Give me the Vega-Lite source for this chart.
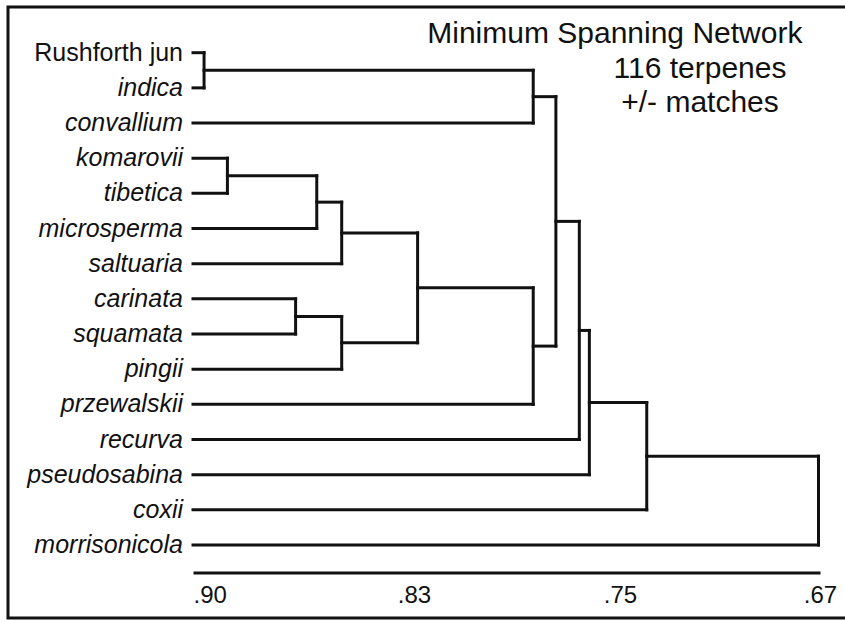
{
  "$schema": "https://vega.github.io/schema/vega-lite/v6.json",
  "width": 841,
  "height": 611,
  "autosize": "none",
  "padding": {"left": 8, "top": 7, "right": -4, "bottom": 3},
  "background": "white",
  "config": {
    "view": {"stroke": "#111", "strokeWidth": 3},
    "font": "Liberation Sans",
    "axis": {"grid": false, "ticks": false, "title": null}
  },
  "datasets": {
    "segments": [
      {"x1": 0.9, "x2": 0.8965, "y1": 0, "y2": 0},
      {"x1": 0.9, "x2": 0.8965, "y1": 1, "y2": 1},
      {"x1": 0.8965, "x2": 0.8965, "y1": 0, "y2": 1},
      {"x1": 0.8965, "x2": 0.7837, "y1": 0.5, "y2": 0.5},
      {"x1": 0.9, "x2": 0.7837, "y1": 2, "y2": 2},
      {"x1": 0.7837, "x2": 0.7837, "y1": 0.5, "y2": 2},
      {"x1": 0.7837, "x2": 0.7749, "y1": 1.25, "y2": 1.25},
      {"x1": 0.9, "x2": 0.8891, "y1": 3, "y2": 3},
      {"x1": 0.9, "x2": 0.8891, "y1": 4, "y2": 4},
      {"x1": 0.8891, "x2": 0.8891, "y1": 3, "y2": 4},
      {"x1": 0.8891, "x2": 0.8608, "y1": 3.5, "y2": 3.5},
      {"x1": 0.9, "x2": 0.8608, "y1": 5, "y2": 5},
      {"x1": 0.8608, "x2": 0.8608, "y1": 3.5, "y2": 5},
      {"x1": 0.8608, "x2": 0.8529, "y1": 4.25, "y2": 4.25},
      {"x1": 0.9, "x2": 0.8529, "y1": 6, "y2": 6},
      {"x1": 0.8529, "x2": 0.8529, "y1": 4.25, "y2": 6},
      {"x1": 0.8529, "x2": 0.8286, "y1": 5.125, "y2": 5.125},
      {"x1": 0.9, "x2": 0.8675, "y1": 7, "y2": 7},
      {"x1": 0.9, "x2": 0.8675, "y1": 8, "y2": 8},
      {"x1": 0.8675, "x2": 0.8675, "y1": 7, "y2": 8},
      {"x1": 0.8675, "x2": 0.8529, "y1": 7.5, "y2": 7.5},
      {"x1": 0.9, "x2": 0.8529, "y1": 9, "y2": 9},
      {"x1": 0.8529, "x2": 0.8529, "y1": 7.5, "y2": 9},
      {"x1": 0.8529, "x2": 0.8286, "y1": 8.25, "y2": 8.25},
      {"x1": 0.8286, "x2": 0.8286, "y1": 5.125, "y2": 8.25},
      {"x1": 0.8286, "x2": 0.7837, "y1": 6.6875, "y2": 6.6875},
      {"x1": 0.9, "x2": 0.7837, "y1": 10, "y2": 10},
      {"x1": 0.7837, "x2": 0.7837, "y1": 6.6875, "y2": 10},
      {"x1": 0.7837, "x2": 0.7749, "y1": 8.34375, "y2": 8.34375},
      {"x1": 0.7749, "x2": 0.7749, "y1": 1.25, "y2": 8.34375},
      {"x1": 0.7749, "x2": 0.7658, "y1": 4.796875, "y2": 4.796875},
      {"x1": 0.9, "x2": 0.7658, "y1": 11, "y2": 11},
      {"x1": 0.7658, "x2": 0.7658, "y1": 4.796875, "y2": 11},
      {"x1": 0.7658, "x2": 0.7619, "y1": 7.8984, "y2": 7.8984},
      {"x1": 0.9, "x2": 0.7619, "y1": 12, "y2": 12},
      {"x1": 0.7619, "x2": 0.7619, "y1": 7.8984, "y2": 12},
      {"x1": 0.7619, "x2": 0.7393, "y1": 9.9492, "y2": 9.9492},
      {"x1": 0.9, "x2": 0.7393, "y1": 13, "y2": 13},
      {"x1": 0.7393, "x2": 0.7393, "y1": 9.9492, "y2": 13},
      {"x1": 0.7393, "x2": 0.6706, "y1": 11.4746, "y2": 11.4746},
      {"x1": 0.9, "x2": 0.6706, "y1": 14, "y2": 14},
      {"x1": 0.6706, "x2": 0.6706, "y1": 11.4746, "y2": 14}
    ],
    "leaves": [
      {"name": "Rushforth jun", "order": 0, "kind": "population"},
      {"name": "indica", "order": 1, "kind": "species"},
      {"name": "convallium", "order": 2, "kind": "species"},
      {"name": "komarovii", "order": 3, "kind": "species"},
      {"name": "tibetica", "order": 4, "kind": "species"},
      {"name": "microsperma", "order": 5, "kind": "species"},
      {"name": "saltuaria", "order": 6, "kind": "species"},
      {"name": "carinata", "order": 7, "kind": "species"},
      {"name": "squamata", "order": 8, "kind": "species"},
      {"name": "pingii", "order": 9, "kind": "species"},
      {"name": "przewalskii", "order": 10, "kind": "species"},
      {"name": "recurva", "order": 11, "kind": "species"},
      {"name": "pseudosabina", "order": 12, "kind": "species"},
      {"name": "coxii", "order": 13, "kind": "species"},
      {"name": "morrisonicola", "order": 14, "kind": "species"}
    ],
    "note": [{}]
  },
  "layer": [
    {
      "data": {"name": "segments"},
      "mark": {"type": "rule", "stroke": "#111", "strokeWidth": 3, "strokeCap": "square"},
      "encoding": {
        "x": {
          "field": "x1",
          "type": "quantitative",
          "scale": {"domain": [0.9, 0.83, 0.75, 0.67], "range": [185, 406, 612, 812], "nice": false, "zero": false},
          "axis": {
            "orient": "bottom",
            "offset": -45.5,
            "domain": true,
            "domainColor": "#111",
            "domainWidth": 3,
            "values": [0.9, 0.83, 0.75, 0.67],
            "labelExpr": "replace(format(datum.value, '.2f'), '0.', '.')",
            "labelFont": "Liberation Sans",
            "labelFontSize": 24,
            "labelColor": "#111",
            "labelPadding": 11,
            "labelFlush": false,
            "labelOverlap": false,
            "labelAlign": {"condition": {"test": "datum.value === 0.9", "value": "left"}, "value": "center"}
          }
        },
        "x2": {"field": "x2"},
        "y": {
          "field": "y1",
          "type": "quantitative",
          "scale": {"domain": [0, 14], "range": [45.7, 538], "nice": false, "zero": false},
          "axis": null
        },
        "y2": {"field": "y2"}
      }
    },
    {
      "data": {"name": "leaves"},
      "transform": [{"filter": "datum.kind === 'population'"}],
      "mark": {"type": "text", "align": "right", "baseline": "middle", "dx": -10, "fontSize": 25, "font": "Liberation Sans", "color": "#111"},
      "encoding": {
        "x": {"datum": 0.9, "type": "quantitative"},
        "y": {"field": "order", "type": "quantitative"},
        "text": {"field": "name"}
      }
    },
    {
      "data": {"name": "leaves"},
      "transform": [{"filter": "datum.kind === 'species'"}],
      "mark": {"type": "text", "align": "right", "baseline": "middle", "dx": -10, "fontSize": 25, "fontStyle": "italic", "font": "Liberation Sans", "color": "#111"},
      "encoding": {
        "x": {"datum": 0.9, "type": "quantitative"},
        "y": {"field": "order", "type": "quantitative"},
        "text": {"field": "name"}
      }
    },
    {
      "data": {"name": "note"},
      "mark": {"type": "text", "text": "Minimum Spanning Network", "align": "center", "baseline": "middle", "fontSize": 30, "font": "Liberation Sans", "color": "#111"},
      "encoding": {
        "x": {"datum": 0.752, "type": "quantitative"},
        "y": {"datum": -0.532, "type": "quantitative"}
      }
    },
    {
      "data": {"name": "note"},
      "mark": {"type": "text", "text": "116 terpenes", "align": "center", "baseline": "middle", "fontSize": 30, "font": "Liberation Sans", "color": "#111"},
      "encoding": {
        "x": {"datum": 0.718, "type": "quantitative"},
        "y": {"datum": 0.464, "type": "quantitative"}
      }
    },
    {
      "data": {"name": "note"},
      "mark": {"type": "text", "text": "+/- matches", "align": "center", "baseline": "middle", "fontSize": 30, "font": "Liberation Sans", "color": "#111"},
      "encoding": {
        "x": {"datum": 0.718, "type": "quantitative"},
        "y": {"datum": 1.431, "type": "quantitative"}
      }
    }
  ]
}
